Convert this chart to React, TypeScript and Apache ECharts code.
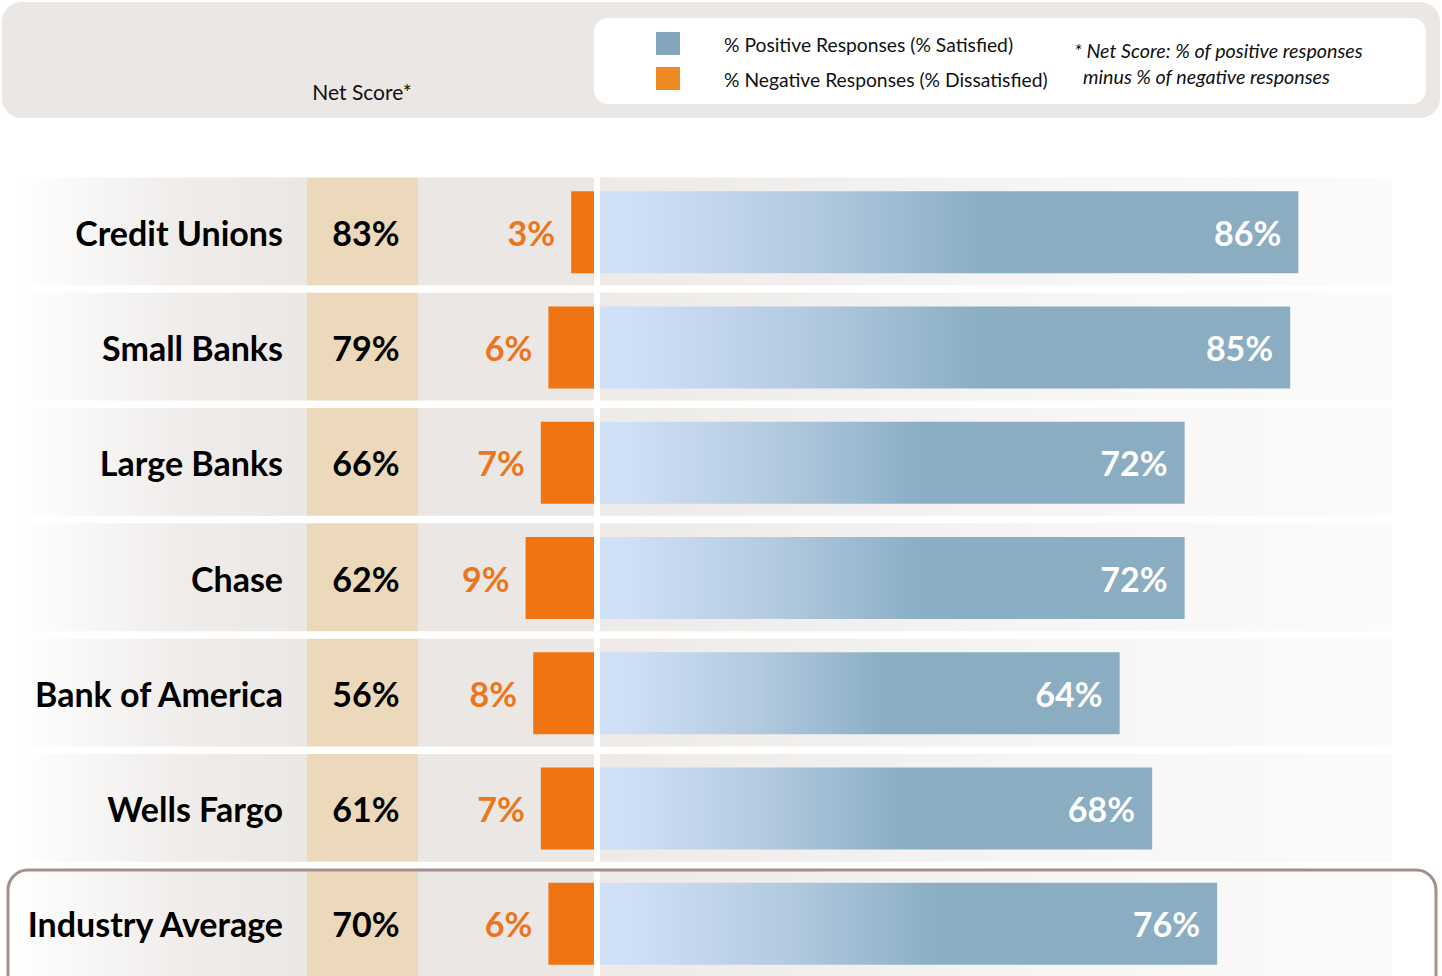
import React, { useEffect, useRef } from "react";
import * as echarts from "echarts";

const categories = ["Credit Unions", "Small Banks", "Large Banks", "Chase", "Bank of America", "Wells Fargo", "Industry Average"];
const netScores = ["83%", "79%", "66%", "62%", "56%", "61%", "70%"];
const negativeValues = [3, 6, 7, 9, 8, 7, 6];
const positiveValues = [86, 85, 72, 72, 64, 68, 76];
const legendLabels = ["% Positive Responses (% Satisfied)", "% Negative Responses (% Dissatisfied)"];
const footnoteLines = ["* Net Score: % of positive responses", "minus % of negative responses"];
const headerLabel = "Net Score*";

const W = 1442;
const H = 1010;
const GRID_TOP = 174.5;
const GRID_H = 807;
const PITCH = GRID_H / categories.length;
const ZERO_L = 594;
const ZERO_R = 600;
const PX_PER_R = 8.12;
const PX_PER_L = 7.6;
const FONT = "Lato, 'Open Sans', sans-serif";

export default function App() {
  const ref = useRef<HTMLDivElement>(null);
  useEffect(() => {
    if (!ref.current) return;
    const chart = echarts.init(ref.current, undefined, { renderer: "svg" });

    const leftMax = 10;
    const leftW = leftMax * PX_PER_L;
    const rightMax = 100;
    const rightW = rightMax * PX_PER_R;

    const graphics: any[] = [];
    // header panel
    graphics.push({ type: "rect", z: 0, shape: { x: 2, y: 2, width: 1438, height: 116, r: 20 }, style: { fill: "#ebe7e4" } });
    graphics.push({ type: "rect", z: 1, shape: { x: 594, y: 18, width: 832, height: 86, r: 14 }, style: { fill: "#ffffff" } });
    graphics.push({ type: "rect", z: 2, shape: { x: 656, y: 32, width: 24, height: 23 }, style: { fill: "#84a6ba" } });
    graphics.push({ type: "rect", z: 2, shape: { x: 656, y: 67, width: 24, height: 23 }, style: { fill: "#ef8a22" } });
    graphics.push({ type: "text", z: 2, x: 724, y: 44, style: { text: legendLabels[0], font: `19.3px ${FONT}`, fill: "#111", textVerticalAlign: "middle" } });
    graphics.push({ type: "text", z: 2, x: 724, y: 79, style: { text: legendLabels[1], font: `19.3px ${FONT}`, fill: "#111", textVerticalAlign: "middle" } });
    graphics.push({ type: "text", z: 2, x: 1074, y: 50, style: { text: footnoteLines[0], font: `italic 19.7px ${FONT}`, fill: "#111", textVerticalAlign: "middle" } });
    graphics.push({ type: "text", z: 2, x: 1083, y: 76, style: { text: footnoteLines[1], font: `italic 19.7px ${FONT}`, fill: "#111", textVerticalAlign: "middle" } });
    graphics.push({ type: "text", z: 2, x: 362, y: 91, style: { text: headerLabel, font: `21px ${FONT}`, fill: "#111", textAlign: "center", textVerticalAlign: "middle" } });

    // row backgrounds
    categories.forEach((_, i) => {
      const y = GRID_TOP + i * PITCH + 3;
      const h = i === categories.length - 1 ? 120 : PITCH - 7.5;
      graphics.push({
        type: "rect", z: 0, shape: { x: 15, y, width: 292, height: h },
        style: { fill: new echarts.graphic.LinearGradient(0, 0, 1, 0, [
          { offset: 0, color: "#ffffff" }, { offset: 0.6, color: "#efecea" }, { offset: 1, color: "#ebe7e4" }]) },
      });
      graphics.push({ type: "rect", z: 0, shape: { x: 307, y, width: 111, height: h }, style: { fill: "#ecd9bb" } });
      graphics.push({ type: "rect", z: 0, shape: { x: 418, y, width: 176, height: h }, style: { fill: "#ebe7e4" } });
      graphics.push({
        type: "rect", z: 0, shape: { x: 600, y, width: 792, height: h },
        style: { fill: new echarts.graphic.LinearGradient(0, 0, 1, 0, [
          { offset: 0, color: "#edeae7" }, { offset: 0.6, color: "#f7f6f5" }, { offset: 1, color: "#fbfbfa" }]) },
      });
    });
    // industry highlight box
    graphics.push({ type: "rect", z: 10, shape: { x: 8, y: 870, width: 1428, height: 140, r: 20 }, style: { fill: "none", stroke: "#a0918a", lineWidth: 3 } });

    const blueGrad = new echarts.graphic.LinearGradient(0, 0, 1, 0, [
      { offset: 0, color: "#d0e0f8" },
      { offset: 0.05, color: "#cfdff7" },
      { offset: 0.3, color: "#b3cae0" },
      { offset: 0.55, color: "#8aaec4" },
      { offset: 1, color: "#8aadc2" },
    ]);

    const option: any = {
      animation: false,
      backgroundColor: "#ffffff",
      graphic: graphics,
      grid: [
        { left: ZERO_L - leftW, width: leftW, top: GRID_TOP, height: GRID_H, containLabel: false },
        { left: ZERO_R, width: rightW, top: GRID_TOP, height: GRID_H, containLabel: false },
      ],
      xAxis: [
        { type: "value", gridIndex: 0, min: 0, max: leftMax, inverse: true, show: false },
        { type: "value", gridIndex: 1, min: 0, max: rightMax, show: false },
      ],
      yAxis: [
        {
          type: "category", gridIndex: 0, data: categories, inverse: true, position: "left",
          axisLine: { show: false }, axisTick: { show: false }, splitLine: { show: false },
          axisLabel: { margin: ZERO_L - leftW - 283, color: "#000", fontFamily: FONT, fontWeight: "bold", fontSize: 34 },
        },
        {
          type: "category", gridIndex: 0, data: netScores, inverse: true, position: "left",
          axisLine: { show: false }, axisTick: { show: false }, splitLine: { show: false },
          axisLabel: { margin: ZERO_L - leftW - 366, align: "center", color: "#000", fontFamily: FONT, fontWeight: "bold", fontSize: 34 },
        },
        {
          type: "category", gridIndex: 1, data: categories, inverse: true, show: false,
        },
      ],
      series: [
        {
          type: "bar", xAxisIndex: 0, yAxisIndex: 0, data: negativeValues, barWidth: 82,
          itemStyle: { color: "#f07412" },
          label: { show: true, position: "left", distance: 16, formatter: "{c}%", color: "#ea7620", fontFamily: FONT, fontWeight: "bold", fontSize: 34 },
        },
        {
          type: "bar", xAxisIndex: 1, yAxisIndex: 2, data: positiveValues, barWidth: 82,
          itemStyle: { color: blueGrad },
          label: { show: true, position: "insideRight", distance: 17, formatter: "{c}%", color: "#ffffff", fontFamily: FONT, fontWeight: "bold", fontSize: 34 },
        },
      ],
    };
    chart.setOption(option);
    return () => chart.dispose();
  }, []);
  return <div ref={ref} style={{ position: "fixed", left: 0, top: 0, width: W, height: H }} />;
}
